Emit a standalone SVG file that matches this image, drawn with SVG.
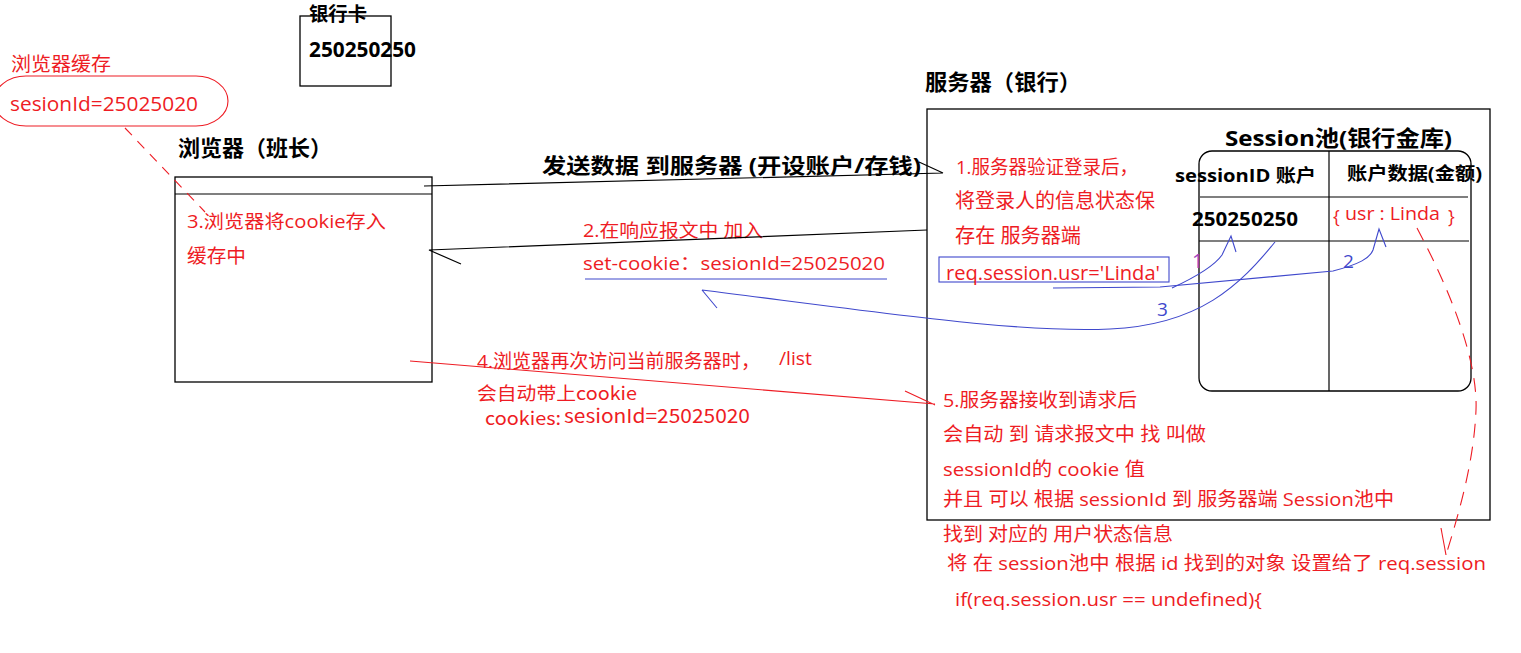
<svg xmlns="http://www.w3.org/2000/svg" width="1521" height="653" viewBox="0 0 1521 653">
<style>
text{font-family:"Open Sans","Noto Sans CJK SC",sans-serif;}
.cj{font-family:"Noto Sans CJK SC",sans-serif;}
.b{font-weight:bold;fill:#000;}
.r{fill:#ee1c24;}
.bl{fill:#3f48cc;}
.box{fill:none;stroke:#000;stroke-width:1.3;}
.k{fill:none;stroke:#000;stroke-width:1.2;}
.rl{fill:none;stroke:#ee1c24;stroke-width:1.1;}
.bll{fill:none;stroke:#3f48cc;stroke-width:1.1;}
</style>
<rect width="1521" height="653" fill="#fff"/>

<g id="card">
<rect class="box" x="300" y="16" width="91" height="70"/>
<text class="b" x="309" y="21" font-size="19" textLength="58" lengthAdjust="spacingAndGlyphs">银行卡</text>
<text class="b" x="309" y="57" font-size="21" textLength="107" lengthAdjust="spacingAndGlyphs">250250250</text>
</g>

<g id="cache">
<text class="r" x="11" y="71" font-size="19.5" textLength="100" lengthAdjust="spacingAndGlyphs">浏览器缓存</text>
<rect x="-6" y="76" width="234" height="50" rx="32" ry="25" fill="none" stroke="#ee1c24" stroke-width="1.1"/>
<text class="r" x="10" y="111" font-size="20" textLength="188" lengthAdjust="spacingAndGlyphs">sesionId=25025020</text>
</g>

<g id="browser">
<text class="b" x="178" y="156" font-size="22" textLength="154" lengthAdjust="spacingAndGlyphs">浏览器（班长）</text>
<rect class="box" x="175" y="177" width="257" height="205"/>
<line class="k" x1="175" y1="194" x2="432" y2="194"/>
<text class="r" x="187" y="228" font-size="18.5" textLength="199" lengthAdjust="spacingAndGlyphs">3.浏览器将cookie存入</text>
<text class="r" x="187" y="263" font-size="19" textLength="59" lengthAdjust="spacingAndGlyphs">缓存中</text>
</g>

<g id="server">
<text class="b" x="925" y="90" font-size="22" textLength="156" lengthAdjust="spacingAndGlyphs">服务器（银行）</text>
<rect class="box" x="927" y="109" width="563" height="411"/>
<text class="r" x="956" y="174" font-size="19" textLength="182" lengthAdjust="spacingAndGlyphs">1.服务器验证登录后，</text>
<text class="r" x="955" y="208" font-size="20" textLength="200" lengthAdjust="spacingAndGlyphs">将登录人的信息状态保</text>
<text class="r" x="955" y="243" font-size="20" textLength="126" lengthAdjust="spacingAndGlyphs">存在 服务器端</text>
<rect x="939" y="257" width="230" height="25" fill="none" stroke="#3f48cc" stroke-width="1.1"/>
<text class="r" x="946" y="280" font-size="19.5" textLength="214" lengthAdjust="spacingAndGlyphs">req.session.usr='Linda'</text>
<text class="r" x="943" y="407" font-size="19" textLength="194" lengthAdjust="spacingAndGlyphs">5.服务器接收到请求后</text>
<text class="r" x="943" y="441" font-size="19" textLength="263" lengthAdjust="spacingAndGlyphs">会自动 到 请求报文中 找 叫做</text>
<text class="r" x="943" y="476" font-size="19" textLength="202" lengthAdjust="spacingAndGlyphs">sessionId的 cookie 值</text>
<text class="r" x="943" y="506" font-size="19" textLength="451" lengthAdjust="spacingAndGlyphs">并且 可以 根据 sessionId 到 服务器端 Session池中</text>
<text class="r" x="943" y="541" font-size="19" textLength="230" lengthAdjust="spacingAndGlyphs">找到 对应的 用户状态信息</text>
<text class="r" x="947" y="570" font-size="19" textLength="539" lengthAdjust="spacingAndGlyphs">将  在 session池中 根据 id 找到的对象 设置给了 req.session</text>
<text class="r" x="955" y="606" font-size="19" textLength="307" lengthAdjust="spacingAndGlyphs">if(req.session.usr == undefined){</text>
</g>

<g id="session-pool">
<text class="b" x="1225" y="146" font-size="22" textLength="227" lengthAdjust="spacingAndGlyphs">Session池(银行金库)</text>
<rect class="box" x="1199" y="151" width="272" height="240" rx="13" ry="13"/>
<line class="k" x1="1329" y1="151" x2="1329" y2="391"/>
<line class="k" x1="1200" y1="197" x2="1468" y2="197"/>
<line class="k" x1="1199" y1="241" x2="1469" y2="241"/>
<text class="b" x="1175" y="182" font-size="18" textLength="141" lengthAdjust="spacingAndGlyphs">sessionID 账户</text>
<text class="b" x="1347" y="180" font-size="18" textLength="135" lengthAdjust="spacingAndGlyphs">账户数据(金额)</text>
<text class="b" x="1192" y="226" font-size="20" textLength="106" lengthAdjust="spacingAndGlyphs">250250250</text>
<text class="r" x="1333" y="223" font-size="18">{</text>
<text class="r" x="1345" y="220" font-size="18" textLength="95" lengthAdjust="spacingAndGlyphs">usr : Linda</text>
<text class="r" x="1448" y="223" font-size="18">}</text>
</g>

<g id="labels">
<text class="b" x="542" y="173" font-size="21" textLength="379" lengthAdjust="spacingAndGlyphs">发送数据 到服务器 (开设账户/存钱)</text>
<text class="r" x="583" y="237" font-size="18.5" textLength="180" lengthAdjust="spacingAndGlyphs">2.在响应报文中 加入</text>
<text class="r" x="583" y="270" font-size="19" textLength="302" lengthAdjust="spacingAndGlyphs">set-cookie：sesionId=25025020</text>
<text class="r" x="477" y="368" font-size="19" textLength="283" lengthAdjust="spacingAndGlyphs">4.浏览器再次访问当前服务器时，</text>
<text class="r" x="779" y="365" font-size="19" textLength="33" lengthAdjust="spacingAndGlyphs">/list</text>
<text class="r cj" x="477" y="400" font-size="18.5" textLength="160" lengthAdjust="spacingAndGlyphs">会自动带上cookie</text>
<text class="r cj" x="485" y="425" font-size="18.5" textLength="76" lengthAdjust="spacingAndGlyphs">cookies:</text>
<text class="r cj" x="564" y="423" font-size="19" textLength="186" lengthAdjust="spacingAndGlyphs">sesionId=25025020</text>
<text x="1192" y="268" font-size="20" fill="#a040c0">1</text>
<text class="bl" x="1343" y="268" font-size="19">2</text>
<text class="bl" x="1157" y="316" font-size="19">3</text>
</g>

<g id="connectors">
<path class="k" d="M424,186 L943,173 M919,162 L943,173"/>
<path class="k" d="M927,230 L429,250 L461,264"/>
<path class="rl" d="M410,361 L935,404 M905,391 L935,405"/>
<path class="rl" d="M125,128 L205,212" stroke-dasharray="10 8"/>
<path class="rl" d="M1417,228 C1450,290 1478,360 1476,410 C1474,460 1460,510 1446,555" stroke-dasharray="14 9"/>
<path class="rl" d="M1441,528 L1446,555"/>
<path class="bll" d="M585,279 L887,279"/>
<path class="bll" d="M1172,288 C1200,275 1215,265 1222,255 L1231,236 L1236,252"/>
<path class="bll" d="M1053,288 L1160,287 L1333,271 C1360,264 1370,258 1373,250 L1379,229 L1386,247"/>
<path class="bll" d="M1275,242 C1240,285 1200,325 1110,329 C1020,333 900,315 702,290 M702,290 L717,308"/>
</g>
</svg>
